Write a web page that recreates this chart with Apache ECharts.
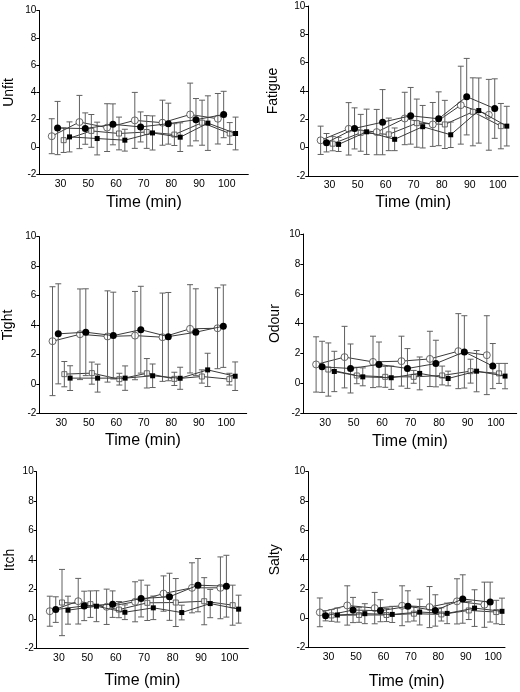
<!DOCTYPE html>
<html><head><meta charset="utf-8">
<script src="https://cdn.jsdelivr.net/npm/echarts@6/dist/echarts.min.js"></script>
<style>html,body{margin:0;padding:0;background:#fff}#c{width:520px;height:692px}</style>
</head><body><div id="c"></div>
<script>
// ---- tick labels / categories ----
const timeLabels = ['30','50','60','70','80','90','100'];
const panelNames = ['Unfit','Fatigue','Tight','Odour','Itch','Salty'];

// ---- data: means and SDs (oc = open circle, fc = filled circle, os = open square, fs = filled square) ----
const unfit_oc = [0.79, 1.83, 1.42, 1.95, 1.78, 2.38, 2.07];
const unfit_oc_sd = [1.28, 1.95, 1.75, 2.05, 1.65, 2.3, 1.85];
const unfit_fc = [1.39, 1.35, 1.66, 1.47, 1.71, 2.0, 2.38];
const unfit_fc_sd = [1.95, 1.15, 1.5, 1.1, 1.5, 1.55, 1.7];
const unfit_os = [0.5, 1.18, 0.99, 1.1, 0.91, 1.78, 0.99];
const unfit_os_sd = [0.9, 1.2, 1.2, 1.2, 0.8, 1.65, 0.8];
const unfit_fs = [0.74, 0.62, 0.5, 1.03, 0.72, 1.75, 0.99];
const unfit_fs_sd = [1.1, 1.2, 0.8, 1.25, 1.05, 2.0, 1.2];

const fatigue_oc = [0.52, 1.33, 1.1, 2.06, 1.64, 3.0, 2.32];
const fatigue_oc_sd = [1.0, 1.85, 1.6, 1.85, 1.55, 2.75, 2.5];
const fatigue_fc = [0.35, 1.36, 1.8, 2.25, 2.04, 3.6, 2.76];
const fatigue_fc_sd = [0.65, 1.45, 2.3, 2.0, 1.9, 2.7, 2.1];
const fatigue_os = [0.28, 1.05, 0.94, 1.73, 1.64, 2.53, 1.52];
const fatigue_os_sd = [0.5, 1.3, 1.15, 1.7, 1.7, 2.4, 1.6];
const fatigue_fs = [0.23, 1.12, 0.59, 1.48, 0.91, 2.62, 1.52];
const fatigue_fs_sd = [0.5, 1.6, 0.8, 1.5, 0.9, 2.3, 1.4];

const tight_oc = [2.9, 3.37, 3.22, 3.28, 3.17, 3.74, 3.78];
const tight_oc_sd = [3.7, 3.08, 3.1, 3.0, 3.0, 3.0, 2.75];
const tight_fc = [3.4, 3.51, 3.28, 3.68, 3.21, 3.51, 3.92];
const tight_fc_sd = [3.4, 2.95, 2.95, 2.95, 3.0, 2.95, 2.8];
const tight_os = [0.66, 0.73, 0.32, 0.72, 0.34, 0.5, 0.32];
const tight_os_sd = [0.86, 0.75, 0.4, 1.0, 0.45, 0.45, 0.4];
const tight_fs = [0.39, 0.39, 0.39, 0.55, 0.38, 0.95, 0.52];
const tight_fs_sd = [0.84, 0.95, 0.83, 0.8, 0.75, 1.13, 0.97];

const odour_oc = [1.27, 1.76, 1.44, 1.49, 1.64, 2.16, 1.89];
const odour_oc_sd = [1.85, 2.06, 1.72, 1.67, 1.85, 2.51, 2.64];
const odour_fc = [1.11, 1.0, 1.27, 1.0, 1.33, 2.11, 1.16];
const odour_fc_sd = [1.71, 1.64, 1.5, 1.33, 1.56, 2.42, 1.51];
const odour_os = [0.93, 0.53, 0.44, 0.44, 0.53, 0.82, 0.67];
const odour_os_sd = [1.78, 0.55, 0.7, 0.43, 0.63, 0.8, 0.67];
const odour_fs = [0.8, 0.44, 0.38, 0.67, 0.33, 0.82, 0.49];
const odour_fs_sd = [1.35, 0.6, 0.78, 1.1, 0.49, 1.38, 0.85];

const itch_oc = [0.52, 1.2, 0.82, 1.16, 1.72, 2.11, 2.11];
const itch_oc_sd = [1.02, 1.55, 1.2, 1.36, 1.2, 1.7, 2.1];
const itch_fc = [0.63, 0.88, 1.0, 1.38, 1.5, 2.29, 2.22];
const itch_fc_sd = [0.87, 1.0, 0.9, 1.25, 1.6, 1.81, 2.1];
const itch_os = [1.11, 1.0, 0.63, 1.09, 1.11, 1.2, 0.93];
const itch_os_sd = [2.25, 0.9, 0.55, 1.2, 1.63, 1.6, 1.36];
const itch_fs = [0.59, 0.86, 0.45, 0.75, 0.43, 1.04, 0.66];
const itch_fs_sd = [0.95, 1.05, 0.5, 0.8, 0.5, 0.96, 0.95];

const salty_oc = [0.41, 0.88, 0.7, 0.86, 0.77, 1.16, 0.93];
const salty_oc_sd = [0.98, 1.34, 1.07, 1.36, 1.4, 1.54, 1.54];
const salty_fc = [0.18, 0.57, 0.52, 0.82, 0.54, 1.32, 1.11];
const salty_fc_sd = [0.35, 0.86, 0.75, 1.06, 1.07, 1.65, 1.36];
const salty_os = [0.2, 0.23, 0.23, 0.32, 0.27, 0.54, 0.43];
const salty_os_sd = [0.4, 0.5, 0.45, 0.5, 0.45, 0.62, 0.8];
const salty_fs = [0.23, 0.32, 0.27, 0.43, 0.34, 0.7, 0.48];
const salty_fs_sd = [0.48, 0.68, 0.55, 0.88, 0.7, 1.25, 0.9];

const panelMeans = [
  [unfit_oc, unfit_fc, unfit_os, unfit_fs],
  [fatigue_oc, fatigue_fc, fatigue_os, fatigue_fs],
  [tight_oc, tight_fc, tight_os, tight_fs],
  [odour_oc, odour_fc, odour_os, odour_fs],
  [itch_oc, itch_fc, itch_os, itch_fs],
  [salty_oc, salty_fc, salty_os, salty_fs]
];
const panelSDs = [
  [unfit_oc_sd, unfit_fc_sd, unfit_os_sd, unfit_fs_sd],
  [fatigue_oc_sd, fatigue_fc_sd, fatigue_os_sd, fatigue_fs_sd],
  [tight_oc_sd, tight_fc_sd, tight_os_sd, tight_fs_sd],
  [odour_oc_sd, odour_fc_sd, odour_os_sd, odour_fs_sd],
  [itch_oc_sd, itch_fc_sd, itch_os_sd, itch_fs_sd],
  [salty_oc_sd, salty_fc_sd, salty_os_sd, salty_fs_sd]
];

// ---- layout / style (kept separate from data) ----
const layout = [
  {left:39.3, top:10.5, width:209, height:163.8, xmin:-0.77, xmax:6.78, yGap:23, xGap:20},
  {left:308.3, top:6, width:209.7, height:170, xmin:-0.76, xmax:6.72, yGap:28, xGap:19},
  {left:39.3, top:236.7, width:207.4, height:176.6, xmin:-0.8, xmax:6.74, yGap:24, xGap:19},
  {left:303.3, top:234, width:213.4, height:179.3, xmin:-0.77, xmax:6.73, yGap:21, xGap:20},
  {left:36.7, top:471.7, width:211.6, height:176.6, xmin:-0.78, xmax:6.66, yGap:20, xGap:24},
  {left:308.3, top:471.7, width:196.7, height:176, xmin:-0.74, xmax:6.43, yGap:26, xGap:25.5}
];
const offsets = [-0.32, -0.11, 0.11, 0.32];
const symbols = ['circle', 'circle', 'rect', 'rect'];
const symSizes = [7, 7, 5, 5];
const isOpen = [true, false, true, false];
const FONT = 'Liberation Sans, Arial, sans-serif';

const grid = [], xAxis = [], yAxis = [], series = [];
panelNames.forEach((name, k) => {
  const L = layout[k];
  grid.push({left: L.left, top: L.top, width: L.width, height: L.height});
  xAxis.push({
    type: 'value', gridIndex: k, min: L.xmin, max: L.xmax,
    name: 'Time (min)', nameLocation: 'middle', nameGap: L.xGap,
    nameTextStyle: {fontSize: 16, color: '#000', fontFamily: FONT},
    axisLine: {show: true, onZero: false, lineStyle: {color: '#000', width: 1}},
    axisTick: {show: false},
    splitLine: {show: false},
    axisLabel: {
      customValues: timeLabels.map((_, i) => i),
      formatter: v => timeLabels[Math.round(v)],
      color: '#000', fontSize: 10.5, margin: 4, fontFamily: FONT
    }
  });
  yAxis.push({
    type: 'value', gridIndex: k, min: -2, max: 10, interval: 2,
    name: name, nameLocation: 'middle', nameGap: L.yGap,
    nameTextStyle: {fontSize: 14, color: '#000', fontFamily: FONT},
    axisLine: {show: true, onZero: false, lineStyle: {color: '#000', width: 1}},
    axisTick: {show: true, inside: false, length: 3, lineStyle: {color: '#000'}},
    splitLine: {show: false},
    axisLabel: {color: '#000', fontSize: 10, margin: 3, fontFamily: FONT}
  });
  const means = panelMeans[k], sds = panelSDs[k];
  const eb = [];
  means.forEach((arr, s) => arr.forEach((m, i) => eb.push([i + offsets[s], m - sds[s][i], m + sds[s][i]])));
  series.push({
    type: 'custom', xAxisIndex: k, yAxisIndex: k, z: 3, silent: true, animation: false,
    data: eb, encode: {x: 0, y: [1, 2]},
    renderItem: (params, api) => {
      const x = api.value(0);
      const lo = api.coord([x, api.value(1)]);
      const hi = api.coord([x, api.value(2)]);
      const w = 3;
      const st = {stroke: '#606060', lineWidth: 1};
      return {type: 'group', children: [
        {type: 'line', shape: {x1: lo[0], y1: lo[1], x2: hi[0], y2: hi[1]}, style: st},
        {type: 'line', shape: {x1: lo[0] - w, y1: lo[1], x2: lo[0] + w, y2: lo[1]}, style: st},
        {type: 'line', shape: {x1: hi[0] - w, y1: hi[1], x2: hi[0] + w, y2: hi[1]}, style: st}
      ]};
    }
  });
  means.forEach((arr, s) => {
    series.push({
      type: 'line', xAxisIndex: k, yAxisIndex: k, animation: false, silent: true,
      z: isOpen[s] ? 2 : 4,
      data: arr.map((v, i) => [i + offsets[s], v]),
      symbol: symbols[s], symbolSize: symSizes[s], showSymbol: true,
      lineStyle: {color: '#3a3a3a', width: 1},
      itemStyle: isOpen[s]
        ? {color: '#fff', borderColor: '#444', borderWidth: 0.8}
        : {color: '#000', borderColor: '#000', borderWidth: 0}
    });
  });
});

const chart = echarts.init(document.getElementById('c'), null, {renderer: 'canvas'});
chart.setOption({backgroundColor: '#fff', animation: false, grid, xAxis, yAxis, series});
</script></body></html>
